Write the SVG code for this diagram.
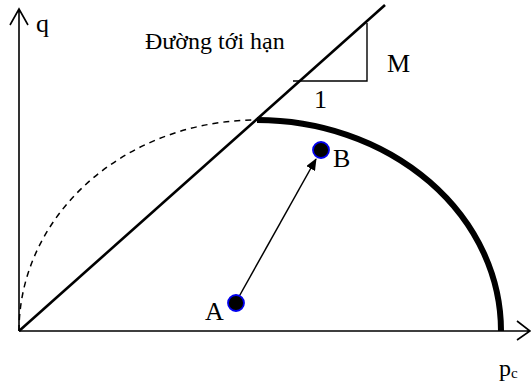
<svg xmlns="http://www.w3.org/2000/svg" width="531" height="387" viewBox="0 0 531 387">
<style>
.t{font-family:"Liberation Serif","Times New Roman",serif;fill:#000}
.ax{stroke:#000;stroke-width:1.6;fill:none}
.pt{fill:#000;stroke:#0000ee;stroke-width:1.8}
</style>
<defs>
<marker id="ah" markerWidth="12" markerHeight="10" refX="11" refY="5" orient="auto" markerUnits="userSpaceOnUse">
<path d="M0,0 L12,5 L0,10 Z" fill="#000"/>
</marker>
</defs>
<rect width="531" height="387" fill="#fff"/>
<g id="axes">
<path class="ax" d="M19,331 V9 M10,25 L19,9 L28,25"/>
<path class="ax" d="M19,331 H530 M517,321 L530,331 L517,340"/>
<text class="t" x="36" y="32" font-size="26">q</text>
<text class="t" x="499" y="376" font-size="24">p<tspan font-size="15" dy="2">c</tspan></text>
</g>
<g id="critical-line">
<line x1="19" y1="331" x2="385" y2="5" stroke="#000" stroke-width="2.6"/>
<path d="M293,81 H367 V23" fill="none" stroke="#000" stroke-width="1.4"/>
<text class="t" x="145" y="49" font-size="24">Đường tới hạn</text>
<text class="t" x="387" y="72" font-size="26">M</text>
<text class="t" x="314" y="108" font-size="26">1</text>
</g>
<g id="yield-curve">
<path d="M19,331 A238,211 0 0,1 257,120" fill="none" stroke="#000" stroke-width="1.5" stroke-dasharray="6,5"/>
<path d="M257,120 A244,211 0 0,1 501,331" fill="none" stroke="#000" stroke-width="6"/>
</g>
<g id="connectors">
<line x1="236" y1="302" x2="316" y2="159" stroke="#000" stroke-width="1.5" marker-end="url(#ah)"/>
</g>
<g id="node-A">
<circle class="pt" cx="236" cy="303" r="8"/>
<text class="t" x="205" y="320" font-size="26">A</text>
</g>
<g id="node-B">
<circle class="pt" cx="321" cy="150" r="8"/>
<text class="t" x="333" y="167" font-size="26">B</text>
</g>
</svg>
